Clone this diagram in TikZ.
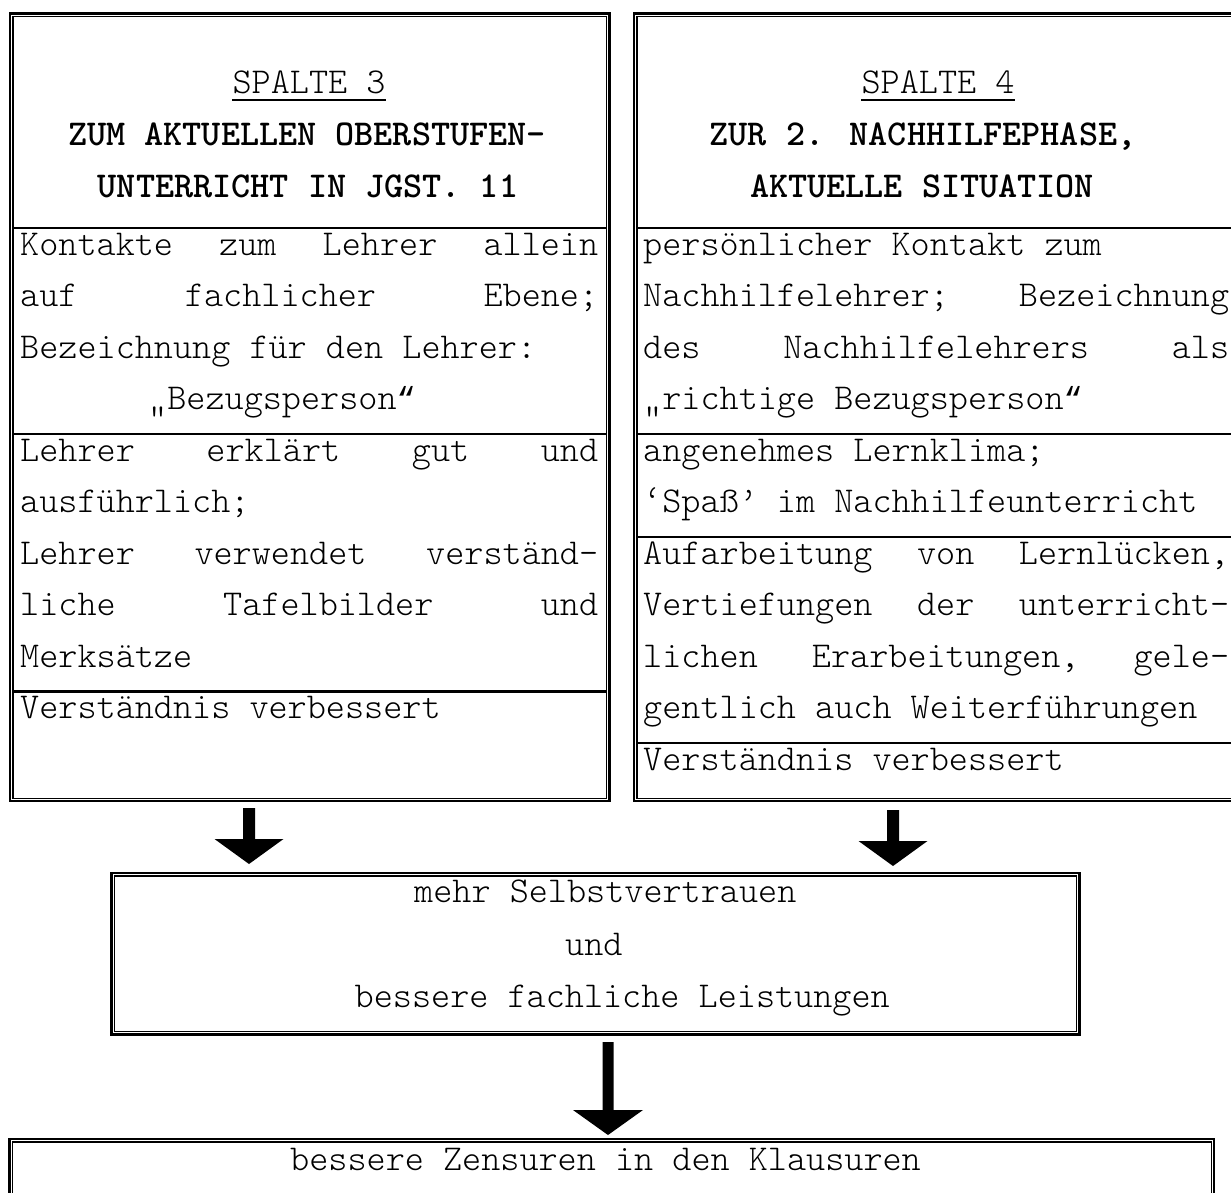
\documentclass[tikz,border=0pt]{standalone}
\usepackage{fontspec}
\newfontfamily\quotefont{Liberation Mono}
\usetikzlibrary{calc}
% one line of a cell: natural width (full typewriter spaces), or justified to the column width
\newcommand\nl[1]{\leavevmode\hbox{\spaceskip=0pt\xspaceskip=0pt #1}}
\newcommand\jL[1]{\leavevmode\hbox to 578pt{#1}}
\newcommand\jR[1]{\leavevmode\hbox to 586pt{#1}}
% curly closing quote of the same advance width
\newcommand\cq{{\fontsize{31.8pt}{51.5pt}\quotefont “}}
% filled block arrow: start, tip, half shaft width, half head width, head length
\newcommand\blockarrow[5]{\fill let \p1=(#1), \p2=(#2) in
  (\x1-#3,\y1) -- (\x1+#3,\y1) -- (\x1+#3,\y2+#5) -- (\x1+#4,\y2+#5) --
  (\x2,\y2) -- (\x1-#4,\y2+#5) -- (\x1-#3,\y2+#5) -- cycle;}
\newcommand\typefont{\fontsize{36.4pt}{51.5pt}\ttfamily\fontseries{l}\selectfont}
\begin{document}
\begin{tikzpicture}[x=1pt,y=-1pt,
  txt/.style={inner sep=0pt, font=\typefont},
  cell/.style={txt, anchor=base west, align=left, text width=#1},
  oneline/.style={txt, anchor=base west},
  head/.style={txt, anchor=base},
  headb/.style={head, font=\typefont\bfseries},
  boxframe/.style={draw, line width=2.4pt, inner sep=0pt},
  innerline/.style={line width=1.4pt},
  rowline/.style={line width=2.2pt}]
\useasboundingbox (0,0) rectangle (1231,1193);
\clip (0,0) rectangle (1231,1193);
\fill[white] (0,0) rectangle (1231,1193);

% frames
\node[boxframe, minimum width=599.5pt, minimum height=787.5pt] (col3) at (309.75,407.25) {};
\node[boxframe, minimum width=606pt, minimum height=787.5pt] (col4) at (937,407.25) {};
\node[boxframe, minimum width=968pt, minimum height=161.5pt] (mid) at (595.5,953.75) {};
\node[boxframe, minimum width=1204.5pt, minimum height=101pt] (res) at (611.75,1189.5) {};
\foreach \b in {col3,col4,mid,res}
  \draw[innerline] ([shift={(4pt,-4pt)}]\b.north west) rectangle ([shift={(-4pt,4pt)}]\b.south east);

% row separators
\foreach \yy in {228,434,691.5} \draw[rowline] (14,\yy) -- (605.5,\yy);
\foreach \yy in {228,434,537,743} \draw[rowline] (638,\yy) -- (1236,\yy);

% column 3
\node[head] (s3) at (309,94) {SPALTE 3};
\draw[line width=1.3pt] ([yshift=-6pt]s3.base west) -- ([yshift=-6pt]s3.base east);
\node[headb] (h3a) at (307,145.5) {ZUM AKTUELLEN OBERSTUFEN-};
\node[headb] (h3b) at (308,197) {UNTERRICHT IN JGST. 11};
\node[cell=578pt] (c3a) at (20,255) {\jL{Kontakte\hfill zum\hfill Lehrer\hfill allein}\\
  \jL{auf\hfill fachlicher\hfill Ebene;}\\
  \nl{Bezeichnung für den Lehrer:}\\
  \nl{\hspace*{128pt}„Bezugsperson\cq}};
\node[cell=578pt] (c3b) at (20,461) {\jL{Lehrer\hfill erklärt\hfill gut\hfill und}\\
  \nl{ausführlich;}\\
  \jL{Lehrer\hfill verwendet\hfill verständ-}\\
  \jL{liche\hfill Tafelbilder\hfill und}\\
  \nl{Merksätze}};
\node[oneline] (c3c) at (20,718.5) {Verständnis verbessert};

% column 4
\node[head] (s4) at (938,94) {SPALTE 4};
\draw[line width=1.3pt] ([yshift=-6pt]s4.base west) -- ([yshift=-6pt]s4.base east);
\node[headb] (h4a) at (923,145.5) {ZUR 2. NACHHILFEPHASE,};
\node[headb] (h4b) at (922,197) {AKTUELLE SITUATION};
\node[cell=586pt] (c4a) at (643,255) {\nl{persönlicher Kontakt zum}\\
  \jR{Nachhilfelehrer;\hfill Bezeichnung}\\
  \jR{des\hfill Nachhilfelehrers\hfill als}\\
  \nl{„richtige Bezugsperson\cq}};
\node[cell=586pt] (c4b) at (643,461) {\nl{angenehmes Lernklima;}\\
  \nl{‘Spaß’ im Nachhilfeunterricht}};
\node[cell=586pt] (c4c) at (643,564) {\jR{Aufarbeitung\hfill von\hfill Lernlücken,}\\
  \jR{Vertiefungen\hfill der\hfill unterricht-}\\
  \jR{lichen\hfill Erarbeitungen,\hfill gele-}\\
  \nl{gentlich auch Weiterführungen}};
\node[oneline] (c4d) at (643,770) {Verständnis verbessert};

% middle box
\node[oneline] (m1) at (414,902) {mehr Selbstvertrauen};
\node[oneline] (m2) at (565,955) {und};
\node[oneline] (m3) at (354.5,1007) {bessere fachliche Leistungen};

% result box
\node[oneline] (r1) at (290,1170) {bessere Zensuren in den Klausuren};

% arrows
\coordinate (a1s) at (249,808);  \coordinate (a1e) at (249,864);
\coordinate (a2s) at (893,810);  \coordinate (a2e) at (893,866);
\coordinate (a3s) at (608,1042); \coordinate (a3e) at (608,1135);
\blockarrow{a1s}{a1e}{6pt}{34.5pt}{25pt}
\blockarrow{a2s}{a2e}{6pt}{34.5pt}{25pt}
\blockarrow{a3s}{a3e}{5.5pt}{35pt}{25pt}
\end{tikzpicture}
\end{document}
